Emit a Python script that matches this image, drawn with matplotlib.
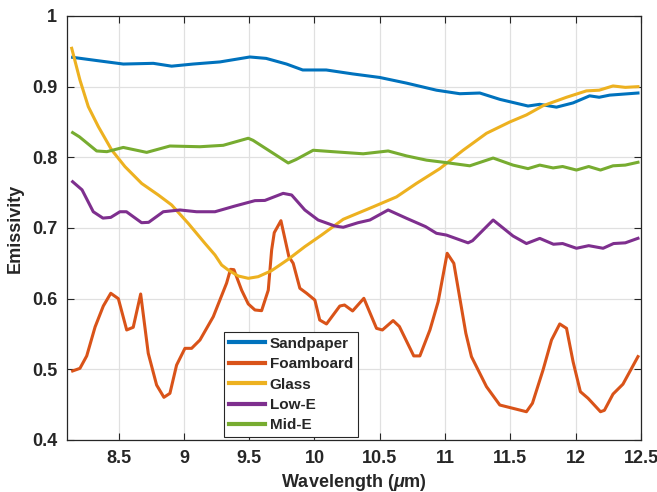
import matplotlib
matplotlib.use("Agg")
import matplotlib.pyplot as plt

# Emissivity spectra
sand_x = [8.148, 8.33, 8.536, 8.766, 8.906, 9.07, 9.276, 9.505, 9.63, 9.786, 9.91, 10.09,
          10.294, 10.5, 10.705, 10.934, 11.113, 11.266, 11.42, 11.635, 11.725, 11.853,
          11.98, 12.107, 12.18, 12.26, 12.477]
sand_y = [0.9415, 0.937, 0.932, 0.933, 0.929, 0.932, 0.935, 0.942, 0.94, 0.932, 0.9236, 0.9236,
          0.918, 0.913, 0.905, 0.895, 0.89, 0.891, 0.882, 0.8726, 0.875, 0.871,
          0.877, 0.887, 0.885, 0.888, 0.891]

foam_x = [8.148, 8.204, 8.256, 8.32, 8.383, 8.44, 8.498, 8.562, 8.612, 8.669, 8.727, 8.791,
          8.847, 8.893, 8.944, 9.008, 9.059, 9.123, 9.225, 9.327, 9.357, 9.383, 9.442,
          9.493, 9.544, 9.595, 9.646, 9.672, 9.692, 9.743, 9.804, 9.837, 9.888, 9.94, 10.003,
          10.04, 10.092, 10.194, 10.23, 10.292, 10.378, 10.475, 10.52, 10.602, 10.65,
          10.76, 10.807, 10.884, 10.947, 11.016, 11.067, 11.159, 11.202, 11.317, 11.419,
          11.623, 11.669, 11.75, 11.815, 11.878, 11.93, 11.98, 12.036, 12.095, 12.19,
          12.22, 12.286, 12.362, 12.477]
foam_y = [0.4977, 0.5014, 0.519, 0.56, 0.5896, 0.6076, 0.6, 0.5557, 0.5595, 0.6066, 0.5227,
          0.4778, 0.4604, 0.466, 0.506, 0.5297, 0.5297, 0.5415, 0.5745, 0.622, 0.6415,
          0.641, 0.612, 0.5925, 0.584, 0.583, 0.612, 0.669, 0.6934, 0.7103, 0.6594, 0.65,
          0.6147, 0.6076, 0.598, 0.5698, 0.5642, 0.5896, 0.591, 0.5826, 0.6005, 0.558,
          0.5557, 0.569, 0.5606, 0.519, 0.519, 0.5557, 0.5957, 0.6642, 0.65, 0.551, 0.5179,
          0.4755, 0.4495, 0.44, 0.452, 0.499, 0.5415, 0.5642, 0.558, 0.5109, 0.4684, 0.459,
          0.44, 0.442, 0.465, 0.479, 0.518]

glass_x = [8.141, 8.204, 8.268, 8.345, 8.447, 8.549, 8.677, 8.804, 8.906, 9.033, 9.161,
           9.238, 9.289, 9.339, 9.416, 9.493, 9.569, 9.671, 9.799, 9.926, 10.054, 10.22,
           10.45, 10.628, 10.78, 10.96, 11.138, 11.317, 11.495, 11.623, 11.75, 11.93,
           12.082, 12.18, 12.286, 12.38, 12.477]
glass_y = [0.9543, 0.9094, 0.8717, 0.8434, 0.8104, 0.7868, 0.763, 0.7467, 0.7326, 0.7066,
           0.6783, 0.6618, 0.6476, 0.6406, 0.6321, 0.6288, 0.6311, 0.6396, 0.6557, 0.6736,
           0.69, 0.7123, 0.73, 0.744, 0.763, 0.784, 0.81, 0.834, 0.85, 0.86, 0.873, 0.885,
           0.894, 0.895, 0.901, 0.899, 0.9]

lowe_x = [8.148, 8.22, 8.306, 8.38, 8.44, 8.51, 8.56, 8.676, 8.73, 8.842, 8.97, 9.097, 9.238,
          9.391, 9.544, 9.62, 9.76, 9.825, 9.926, 10.028, 10.156, 10.22, 10.334, 10.424,
          10.564, 10.705, 10.85, 10.934, 11.01, 11.176, 11.21, 11.368, 11.52, 11.623, 11.725,
          11.83, 11.9, 12.006, 12.1, 12.21, 12.29, 12.38, 12.477]
lowe_y = [0.7655, 0.754, 0.723, 0.714, 0.715, 0.723, 0.723, 0.7075, 0.708, 0.723, 0.7255,
          0.723, 0.723, 0.7311, 0.7387, 0.739, 0.749, 0.7467, 0.7255, 0.7113, 0.7028, 0.701,
          0.7075, 0.7113, 0.7255, 0.7137, 0.702, 0.6925, 0.69, 0.679, 0.682, 0.7113, 0.6887,
          0.678, 0.6853, 0.677, 0.678, 0.6713, 0.675, 0.6713, 0.678, 0.679, 0.6854]

mide_x = [8.148, 8.2, 8.332, 8.41, 8.536, 8.715, 8.893, 9.123, 9.301, 9.493, 9.53, 9.799,
          9.86, 9.99, 10.14, 10.373, 10.564, 10.705, 10.858, 11.01, 11.189, 11.368, 11.52,
          11.635, 11.725, 11.827, 11.9, 12.006, 12.1, 12.19, 12.286, 12.38, 12.477]
mide_y = [0.835, 0.829, 0.809, 0.808, 0.814, 0.807, 0.816, 0.815, 0.817, 0.827, 0.824, 0.792,
          0.797, 0.81, 0.808, 0.805, 0.809, 0.802, 0.796, 0.7925, 0.788, 0.799, 0.789,
          0.784, 0.789, 0.785, 0.787, 0.782, 0.787, 0.782, 0.788, 0.789, 0.793]

labels = ["Sandpaper", "Foamboard", "Glass", "Low-E", "Mid-E"]
colors = ["#0072BD", "#D95319", "#EDB120", "#7E2F8E", "#77AC30"]

plt.rcParams['font.family'] = ['Liberation Sans', 'DejaVu Sans']
plt.rcParams['font.weight'] = 'bold'
plt.rcParams['axes.labelweight'] = 'bold'
plt.rcParams['mathtext.fontset'] = 'custom'
plt.rcParams['mathtext.it'] = 'Liberation Sans:italic:bold'
plt.rcParams['mathtext.rm'] = 'Liberation Sans:bold'
txt = "#262626"

fig = plt.figure(figsize=(6.57, 4.92), dpi=100)
ax = fig.add_axes([0.102, 0.1057, 0.8736, 0.8618])

series = [(sand_x, sand_y), (foam_x, foam_y), (glass_x, glass_y), (lowe_x, lowe_y), (mide_x, mide_y)]
for (xs, ys), lab, c in zip(series, labels, colors):
    ax.plot(xs, ys, color=c, lw=2.2, label=lab, solid_joinstyle='round')

ax.set_xlim(8.105, 12.5)
ax.set_ylim(0.4, 1.0)
ax.set_xticks([8.5, 9, 9.5, 10, 10.5, 11, 11.5, 12, 12.5])
ax.set_xticklabels(["8.5", "9", "9.5", "10", "10.5", "11", "11.5", "12", "12.5"])
ax.set_yticks([0.4, 0.5, 0.6, 0.7, 0.8, 0.9, 1.0])
ax.set_yticklabels(["0.4", "0.5", "0.6", "0.7", "0.8", "0.9", "1"])
ax.grid(True, color="#e0e0e0", lw=0.9)
ax.set_axisbelow(True)
ax.tick_params(direction='in', top=True, right=True, length=5, width=0.8,
               colors=txt, labelsize=13, pad=7)
for s in ax.spines.values():
    s.set_color(txt)
    s.set_linewidth(0.9)

ax.set_xlabel(r"Wavelength ($\mu$m)", fontsize=13, color=txt, labelpad=4)
ax.set_ylabel("Emissivity", fontsize=13, color=txt, labelpad=6)

leg = ax.legend(loc='lower left', bbox_to_anchor=(0.2735, 0.007), borderaxespad=0,
                fontsize=11, fancybox=False, framealpha=1, edgecolor=txt,
                handlelength=2.4, handletextpad=0.3, labelspacing=0.42,
                borderpad=0.3)
leg.get_frame().set_linewidth(0.8)
for t in leg.get_texts():
    t.set_color(txt)
for l in leg.get_lines():
    l.set_linewidth(3)

fig.savefig("out.png", dpi=100)
